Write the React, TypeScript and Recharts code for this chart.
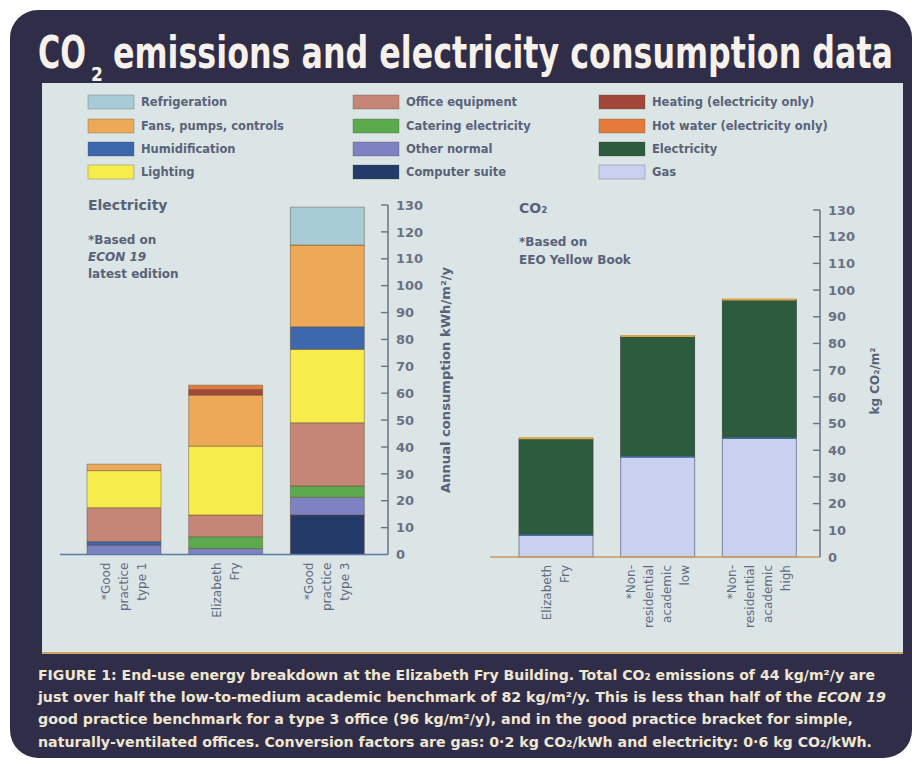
import React from 'react';
import { BarChart, Bar, XAxis, YAxis } from 'recharts';

// ---------- DATA ----------
const elecCategories = ['*Good practice type 1', 'Elizabeth Fry', '*Good practice type 3'];
const elecLabelLines = [['*Good', 'practice', 'type 1'], ['Elizabeth', 'Fry'], ['*Good', 'practice', 'type 3']];
const computerSuite = [0, 0, 14.7];
const otherNormal = [3.5, 2.2, 6.6];
const humidificationLow = [1.3, 0, 0];
const catering = [0, 4.4, 4.2];
const officeEquipment = [12.6, 8.1, 23.5];
const lighting = [13.8, 25.6, 27.3];
const humidification = [0, 0, 8.4];
const fansPumps = [2.4, 19, 30.4];
const heating = [0, 2.1, 0];
const hotWater = [0, 1.6, 0];
const refrigeration = [0, 0, 14.1];

const co2Categories = ['Elizabeth Fry', '*Non-residential academic low', '*Non-residential academic high'];
const co2LabelLines = [['Elizabeth', 'Fry'], ['*Non-', 'residential', 'academic', 'low'], ['*Non-', 'residential', 'academic', 'high']];
const gas = [8.2, 37.5, 44.5];
const electricity = [36.3, 45.3, 52];

const yTicks = [0, 10, 20, 30, 40, 50, 60, 70, 80, 90, 100, 110, 120, 130];

const legendCol1 = ['Refrigeration', 'Fans, pumps, controls', 'Humidification', 'Lighting'];
const legendCol2 = ['Office equipment', 'Catering electricity', 'Other normal', 'Computer suite'];
const legendCol3 = ['Heating (electricity only)', 'Hot water (electricity only)', 'Electricity', 'Gas'];

const captionLines = [
  'FIGURE 1: End-use energy breakdown at the Elizabeth Fry Building. Total CO\u2082 emissions of 44 kg/m\u00b2/y are',
  'just over half the low-to-medium academic benchmark of 82 kg/m\u00b2/y. This is less than half of the ECON 19',
  'good practice benchmark for a type 3 office (96 kg/m\u00b2/y), and in the good practice bracket for simple,',
  'naturally-ventilated offices. Conversion factors are gas: 0\u00b72 kg CO\u2082/kWh and electricity: 0\u00b76 kg CO\u2082/kWh.',
];

// ---------- STYLES ----------
const COLORS: Record<string, string> = {
  'Refrigeration': '#a8ccd6',
  'Fans, pumps, controls': '#eda958',
  'Humidification': '#3d68ae',
  'Lighting': '#f6ec4c',
  'Office equipment': '#c58677',
  'Catering electricity': '#5caa4e',
  'Other normal': '#7e82c2',
  'Computer suite': '#243b69',
  'Heating (electricity only)': '#a3473a',
  'Hot water (electricity only)': '#e47b3b',
  'Electricity': '#2d5b3e',
  'Gas': '#cad0f0',
};

const elecData = elecCategories.map((name, i) => ({
  name,
  computerSuite: computerSuite[i],
  otherNormal: otherNormal[i],
  humidificationLow: humidificationLow[i],
  catering: catering[i],
  officeEquipment: officeEquipment[i],
  lighting: lighting[i],
  humidification: humidification[i],
  fansPumps: fansPumps[i],
  heating: heating[i],
  hotWater: hotWater[i],
  refrigeration: refrigeration[i],
}));

const co2Data = co2Categories.map((name, i) => ({ name, gas: gas[i], electricity: electricity[i] }));

const elecSeries: [string, string][] = [
  ['computerSuite', 'Computer suite'],
  ['otherNormal', 'Other normal'],
  ['humidificationLow', 'Humidification'],
  ['catering', 'Catering electricity'],
  ['officeEquipment', 'Office equipment'],
  ['lighting', 'Lighting'],
  ['humidification', 'Humidification'],
  ['fansPumps', 'Fans, pumps, controls'],
  ['heating', 'Heating (electricity only)'],
  ['hotWater', 'Hot water (electricity only)'],
  ['refrigeration', 'Refrigeration'],
];

const TEXT = '#586279';
const SANS = 'DejaVu Sans, Verdana, sans-serif';
const COND = 'DejaVu Sans Condensed, DejaVu Sans, sans-serif';

const makeXTick = (cats: string[], lines: string[][]) => (props: any) => {
  const { x, y, payload } = props;
  const idx = cats.indexOf(payload.value);
  const ls = lines[idx] || [];
  const n = ls.length;
  return (
    <g>
      {ls.map((t, i) => {
        const xi = x + (i - (n - 1) / 2) * 18;
        return (
          <text key={i} x={xi} y={y} dy="0.36em" transform={`rotate(-90 ${xi} ${y})`} textAnchor="end"
            fontFamily={SANS} fontSize={12} fill="#5f6b82">{t}</text>
        );
      })}
    </g>
  );
};

const YTick = (props: any) => {
  const { x, y, payload } = props;
  return (
    <g>
      {payload.value !== 0 && <line x1={x - 7} x2={x} y1={y} y2={y} stroke="#6a7185" strokeWidth={1.4} />}
      <text x={x + 8} y={y} dy="0.36em" textAnchor="start" fontFamily={SANS} fontWeight="bold" fontSize={13} fill="#6a7185">
        {payload.value}
      </text>
    </g>
  );
};

const ElecShape = (p: any) => {
  const { x, y, width, height, fill } = p;
  if (!height) return null;
  return (
    <g>
      <rect x={x} y={y} width={width} height={height} fill={fill} stroke="#3b4a40" strokeWidth={0.8} />
      <line x1={x} x2={x + width} y1={y} y2={y} stroke="#d9a441" strokeWidth={2} />
      <line x1={x} x2={x + width} y1={y + height} y2={y + height} stroke="#3f6fb0" strokeWidth={1.3} />
    </g>
  );
};

const legendCols: [string[], number][] = [[legendCol1, 88], [legendCol2, 353], [legendCol3, 599]];
const legendRows = [102, 126, 149, 172];

export default function App() {
  return (
    <div style={{ position: 'fixed', left: 0, top: 0, width: 914, height: 764, background: '#ffffff' }}>
      <svg width={914} height={764} style={{ position: 'absolute', left: 0, top: 0 }}>
        <rect x={10} y={10} width={902} height={748} rx={28} fill="#2f2d48" />
        <rect x={42} y={83} width={861} height={570} fill="#dce5e5" />
        <line x1={42} x2={903} y1={653} y2={653} stroke="#c9a465" strokeWidth={2} />
        <g transform="translate(38 68) scale(1 1.3)">
          <text x={0} y={0} fontFamily={COND} fontWeight="bold" fontSize={34} fill="#f6f1ea"
            textLength={48} lengthAdjust="spacingAndGlyphs">CO</text>
        </g>
        <text x={91} y={81} fontFamily={COND} fontWeight="bold" fontSize={19} fill="#f6f1ea">2</text>
        <g transform="translate(113 68) scale(1 1.3)">
          <text x={0} y={0} fontFamily={COND} fontWeight="bold" fontSize={34} fill="#f6f1ea"
            textLength={780} lengthAdjust="spacingAndGlyphs">emissions and electricity consumption data</text>
        </g>

        {legendCols.map(([items, cx]) =>
          items.map((name, r) => (
            <g key={name}>
              <rect x={cx} y={legendRows[r] - 7} width={46} height={14} fill={COLORS[name]} stroke="rgba(60,60,60,0.35)" strokeWidth={0.8} />
              <text x={cx + 53} y={legendRows[r]} dy="0.36em" fontFamily={SANS} fontWeight="bold" fontSize={11.5} fill={TEXT}>{name}</text>
            </g>
          ))
        )}

        <text x={88} y={210} fontFamily={SANS} fontWeight="bold" fontSize={14} fill={TEXT}>Electricity</text>
        <text x={88} y={244} fontFamily={SANS} fontWeight="bold" fontSize={12} fill={TEXT}>*Based on</text>
        <text x={88} y={261} fontFamily={SANS} fontWeight="bold" fontStyle="italic" fontSize={12} fill={TEXT}>ECON 19</text>
        <text x={88} y={278} fontFamily={SANS} fontWeight="bold" fontSize={12} fill={TEXT}>latest edition</text>

        <text x={519} y={213} fontFamily={SANS} fontWeight="bold" fontSize={14} fill={TEXT}>CO{'\u2082'}</text>
        <text x={519} y={246} fontFamily={SANS} fontWeight="bold" fontSize={12} fill={TEXT}>*Based on</text>
        <text x={519} y={264} fontFamily={SANS} fontWeight="bold" fontSize={12} fill={TEXT}>EEO Yellow Book</text>

        <text x={446} y={380} dy="0.36em" transform="rotate(-90 446 380)" textAnchor="middle" fontFamily={SANS}
          fontWeight="bold" fontSize={12} fill={TEXT} textLength={226} lengthAdjust="spacingAndGlyphs">
          Annual consumption kWh/m{'\u00b2'}/y
        </text>
        <text x={875} y={381} dy="0.36em" transform="rotate(-90 875 381)" textAnchor="middle" fontFamily={SANS}
          fontWeight="bold" fontSize={12} fill={TEXT}>
          kg CO{'\u2082'}/m{'\u00b2'}
        </text>

        {captionLines.map((line, i) => {
          const ends = [875, 886, 853, 872];
          const ys = [680, 702, 724, 747];
          const parts = line.split('ECON 19');
          return (
            <text key={i} x={38} y={ys[i]} fontFamily={COND} fontWeight="bold" fontSize={14} fill="#efe6d2"
              textLength={ends[i] - 38} lengthAdjust="spacingAndGlyphs">
              {parts.length > 1 ? (
                <>
                  {parts[0]}<tspan fontStyle="italic">ECON 19</tspan>{parts[1]}
                </>
              ) : line}
            </text>
          );
        })}
      </svg>

      <div style={{ position: 'absolute', left: 0, top: 0 }}>
        <BarChart width={480} height={650} data={elecData} margin={{ top: 205, right: 52, bottom: 65.5, left: 60 }}>
          <XAxis dataKey="name" type="category" height={30} padding={{ left: 13, right: 10 }}
            axisLine={{ stroke: '#5c78a8', strokeWidth: 1.5 }} tickLine={false} tickSize={0} tickMargin={8}
            interval={0} tick={makeXTick(elecCategories, elecLabelLines)} />
          <YAxis orientation="right" width={40} domain={[0, 130]} ticks={yTicks} type="number"
            axisLine={{ stroke: '#6a7185', strokeWidth: 1.5 }} tickLine={false} tickSize={0} tickMargin={0}
            interval={0} tick={<YTick />} />
          {elecSeries.map(([key, label]) => (
            <Bar key={key} dataKey={key} stackId="e" barSize={74} fill={COLORS[label]}
              stroke="rgba(95,70,40,0.55)" strokeWidth={0.8} isAnimationActive={false} />
          ))}
        </BarChart>
      </div>

      <div style={{ position: 'absolute', left: 480, top: 0 }}>
        <BarChart width={420} height={650} data={co2Data} margin={{ top: 210, right: 40, bottom: 63, left: 10 }}>
          <XAxis dataKey="name" type="category" height={30} padding={{ left: 15, right: 10 }}
            axisLine={{ stroke: '#c89a58', strokeWidth: 1.5 }} tickLine={false} tickSize={0} tickMargin={8}
            interval={0} tick={makeXTick(co2Categories, co2LabelLines)} />
          <YAxis orientation="right" width={40} domain={[0, 130]} ticks={yTicks} type="number"
            axisLine={{ stroke: '#6a7185', strokeWidth: 1.5 }} tickLine={false} tickSize={0} tickMargin={0}
            interval={0} tick={<YTick />} />
          <Bar dataKey="gas" stackId="c" barSize={74} fill={COLORS['Gas']} stroke="#7d8296" strokeWidth={1}
            isAnimationActive={false} />
          <Bar dataKey="electricity" stackId="c" barSize={74} fill={COLORS['Electricity']} shape={<ElecShape />}
            isAnimationActive={false} />
        </BarChart>
      </div>
    </div>
  );
}
